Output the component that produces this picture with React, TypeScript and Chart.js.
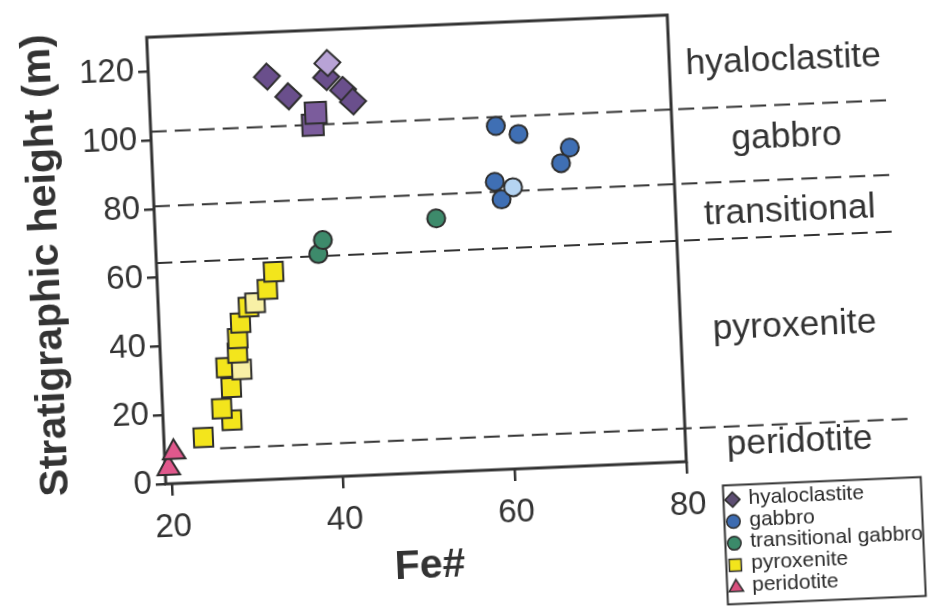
import React, { useEffect, useRef } from 'react';
import { Chart, registerables } from 'chart.js';

Chart.register(...registerables);

const FONT = "'Liberation Sans', Arial, Helvetica, sans-serif";

// Axis ticks
const xTicks = [20, 40, 60, 80];
const yTicks = [0, 20, 40, 60, 80, 100, 120];

// hyaloclastite (diamonds + two squares)
const hyaloX = [33.1, 35.5, 40.0, 40.2, 41.9, 43.0, 38.2, 38.6];
const hyaloY = [117.1, 111.1, 116.2, 120.3, 112.3, 108.8, 102.5, 106.0];
const hyaloShape = ['d', 'd', 'd', 'd', 'd', 'd', 's', 's'];
const hyaloLight = [false, false, false, true, false, false, false, false];

// gabbro
const gabbroX = [59.5, 62.1, 68.0, 66.9, 59.8, 59.1, 61.2];
const gabbroY = [99.9, 97.3, 92.7, 88.3, 78.5, 83.7, 81.9];
const gabbroLight = [false, false, false, false, false, false, true];

// transitional gabbro
const transX = [52.1, 38.2, 38.8];
const transY = [73.8, 64.9, 68.9];

// pyroxenite
const pyroX = [23.9, 27.3, 26.2, 27.4, 26.9, 28.7, 28.3, 28.4, 28.8, 29.8, 30.6, 32.1, 32.9];
const pyroY = [13.0, 17.7, 21.2, 27.2, 33.1, 32.3, 37.2, 41.4, 45.9, 50.4, 51.5, 55.3, 60.3];
const pyroLight = [false, false, false, false, false, true, false, false, false, false, true, false, false];

// peridotite
const peridX = [19.7, 20.4];
const peridY = [4.5, 9.1];

// unit boundaries (dashed) and unit names
const boundaryY = [102.5, 80.8, 64.3, 9.7];
const boundaryStartX: (number | null)[] = [null, null, null, 25.8];
const regionNames = ['hyaloclastite', 'gabbro', 'transitional', 'pyroxenite', 'peridotite'];
const regionLabelY = [115.3, 92.9, 71.5, 38.0, 4.2];

const legendShapes = ['diamond', 'circle', 'circle', 'square', 'triangle'];
const legendColors = ['#5d4e72', '#3d6bb0', '#3b8a6a', '#f3e51c', '#d9507e'];

const OUTLINE = '#2e2e2e';
const INK = '#333333';

function pts(xs: number[], ys: number[]) {
  return xs.map((x, i) => ({ x, y: ys[i] }));
}

function drawShape(ctx: CanvasRenderingContext2D, shape: string, cx: number, cy: number, r: number, fill: string) {
  ctx.beginPath();
  if (shape === 'diamond') {
    ctx.moveTo(cx, cy - r);
    ctx.lineTo(cx + r, cy);
    ctx.lineTo(cx, cy + r);
    ctx.lineTo(cx - r, cy);
    ctx.closePath();
  } else if (shape === 'circle') {
    ctx.arc(cx, cy, r * 0.9, 0, Math.PI * 2);
  } else if (shape === 'square') {
    const s = r * 0.8;
    ctx.rect(cx - s, cy - s, 2 * s, 2 * s);
  } else {
    ctx.moveTo(cx, cy - r);
    ctx.lineTo(cx + r * 0.95, cy + r * 0.6);
    ctx.lineTo(cx - r * 0.95, cy + r * 0.6);
    ctx.closePath();
  }
  ctx.fillStyle = fill;
  ctx.fill();
  ctx.lineWidth = 1.5;
  ctx.strokeStyle = OUTLINE;
  ctx.stroke();
}

const framePlugin = {
  id: 'frameAndBoundaries',
  beforeDatasetsDraw(chart: any) {
    const { ctx, chartArea: a, scales } = chart;
    const xs = scales.x;
    const ys = scales.y;
    ctx.save();
    // dashed unit boundaries
    ctx.strokeStyle = INK;
    ctx.lineWidth = 2;
    ctx.setLineDash([16, 8]);
    boundaryY.forEach((v, i) => {
      const y = ys.getPixelForValue(v);
      const sx = boundaryStartX[i];
      const x0 = sx == null ? a.left : xs.getPixelForValue(sx);
      ctx.beginPath();
      ctx.moveTo(x0, y);
      ctx.lineTo(a.right + 223, y);
      ctx.stroke();
    });
    ctx.setLineDash([]);
    // frame
    ctx.lineWidth = 3;
    ctx.strokeStyle = INK;
    ctx.strokeRect(a.left, a.top, a.right - a.left, a.bottom - a.top);
    ctx.restore();
  },
  afterDraw(chart: any) {
    const { ctx, chartArea: a, scales } = chart;
    const ys = scales.y;
    ctx.save();
    // unit names
    ctx.fillStyle = INK;
    ctx.font = `35.5px ${FONT}`;
    ctx.textAlign = 'center';
    ctx.textBaseline = 'middle';
    regionNames.forEach((n, i) => {
      ctx.fillText(n, a.right + 114, ys.getPixelForValue(regionLabelY[i]));
    });
    // legend box
    const left = a.right + 35.5;
    const top = a.bottom + 25.4;
    const w = 198;
    const h = 119;
    ctx.fillStyle = '#ffffff';
    ctx.fillRect(left, top, w, h);
    ctx.lineWidth = 2;
    ctx.strokeStyle = INK;
    ctx.strokeRect(left, top, w, h);
    ctx.font = `21px ${FONT}`;
    ctx.textAlign = 'left';
    ctx.textBaseline = 'middle';
    chart.data.datasets.forEach((ds: any, i: number) => {
      const cy = top + 14.5 + i * 21.85;
      drawShape(ctx, legendShapes[i], left + 9, cy, 7.5, legendColors[i]);
      ctx.fillStyle = '#2a2a2a';
      ctx.fillText(ds.label, left + 25, cy - 1);
    });
    ctx.restore();
  },
};

export default function App() {
  const ref = useRef<HTMLCanvasElement>(null);

  useEffect(() => {
    const canvas = ref.current;
    if (!canvas) return;

    const tickFont = { family: FONT, size: 33 };
    const titleFont = { family: FONT, size: 41, weight: 'bold' as const };

    const chart = new Chart(canvas, {
      type: 'scatter',
      data: {
        datasets: [
          {
            label: 'hyaloclastite',
            data: pts(hyaloX, hyaloY),
            pointStyle: hyaloShape.map((s) => (s === 'd' ? 'rectRot' : 'rect')) as any,
            pointRadius: hyaloShape.map((s) => (s === 'd' ? 13 : 15)),
            backgroundColor: hyaloShape.map((s, i) =>
              hyaloLight[i] ? '#b8a3d6' : s === 'd' ? '#6a4f8c' : '#7b5c9c'
            ),
            borderColor: OUTLINE,
            borderWidth: 2,
            clip: false as any,
          },
          {
            label: 'gabbro',
            data: pts(gabbroX, gabbroY),
            pointStyle: 'circle',
            pointRadius: 9,
            backgroundColor: gabbroLight.map((l) => (l ? '#b5d4f2' : '#3f6fb4')),
            borderColor: OUTLINE,
            borderWidth: 2,
            clip: false as any,
          },
          {
            label: 'transitional gabbro',
            data: pts(transX, transY),
            pointStyle: 'circle',
            pointRadius: 9,
            backgroundColor: '#3d8a6b',
            borderColor: OUTLINE,
            borderWidth: 2,
            clip: false as any,
          },
          {
            label: 'pyroxenite',
            data: pts(pyroX, pyroY),
            pointStyle: 'rect',
            pointRadius: 13.5,
            backgroundColor: pyroLight.map((l) => (l ? '#f8f0a6' : '#f3e51c')),
            borderColor: OUTLINE,
            borderWidth: 2,
            clip: false as any,
          },
          {
            label: 'peridotite',
            data: pts(peridX, peridY),
            pointStyle: 'triangle',
            pointRadius: 13,
            backgroundColor: '#e0588c',
            borderColor: OUTLINE,
            borderWidth: 2,
            clip: false as any,
          },
        ],
      },
      options: {
        animation: false,
        responsive: false,
        devicePixelRatio: 1,
        layout: { padding: { left: 0, top: 56, right: 293, bottom: 57 } },
        plugins: {
          legend: { display: false },
          tooltip: { enabled: false },
        },
        scales: {
          x: {
            type: 'linear',
            min: 19.3,
            max: 80,
            afterBuildTicks: (s: any) => {
              s.ticks = xTicks.map((v) => ({ value: v }));
            },
            afterFit: (s: any) => {
              s.height = 120;
            },
            ticks: { font: tickFont, color: INK, padding: 12 },
            grid: {
              drawOnChartArea: false,
              drawTicks: true,
              tickLength: 12,
              color: INK,
              lineWidth: 2.5,
            },
            border: { display: false },
            title: {
              display: true,
              text: 'Fe#',
              font: titleFont,
              color: INK,
              padding: { top: 0, bottom: 2 },
            },
          },
          y: {
            type: 'linear',
            min: 0,
            max: 130,
            afterBuildTicks: (s: any) => {
              s.ticks = yTicks.map((v) => ({ value: v }));
            },
            afterFit: (s: any) => {
              s.width = 186;
            },
            ticks: { font: tickFont, color: INK, padding: 4 },
            grid: {
              drawOnChartArea: false,
              drawTicks: true,
              tickLength: 10,
              color: INK,
              lineWidth: 2.5,
            },
            border: { display: false },
            title: {
              display: true,
              text: 'Stratigraphic height (m)',
              font: titleFont,
              color: INK,
              padding: { top: 52, bottom: 0 },
            },
          },
        },
      },
      plugins: [framePlugin],
    });

    return () => chart.destroy();
  }, []);

  return (
    <div
      style={{
        position: 'fixed',
        left: 0,
        top: 0,
        width: 929,
        height: 606,
        overflow: 'hidden',
        background: '#ffffff',
      }}
    >
      <canvas
        ref={ref}
        width={1000}
        height={680}
        style={{
          position: 'absolute',
          left: -30,
          top: -30,
          width: 1000,
          height: 680,
          transform: 'rotate(-2.45deg)',
          transformOrigin: '446.5px 279.5px',
        }}
      />
    </div>
  );
}
